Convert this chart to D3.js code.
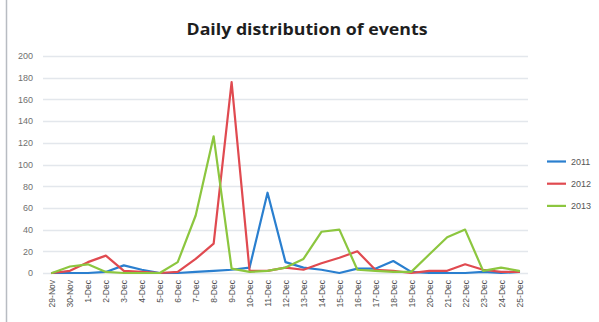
<!DOCTYPE html>
<html>
<head>
<meta charset="utf-8">
<script src="https://cdn.jsdelivr.net/npm/d3@7/dist/d3.min.js"></script>
<style>
  html, body { margin: 0; padding: 0; background: #fff; }
  svg { display: block; }
</style>
</head>
<body>
<svg id="chart" width="599" height="322"></svg>
<script>
// Day labels along the horizontal axis
const days = ["29-Nov", "30-Nov", "1-Dec", "2-Dec", "3-Dec", "4-Dec", "5-Dec", "6-Dec",
  "7-Dec", "8-Dec", "9-Dec", "10-Dec", "11-Dec", "12-Dec", "13-Dec", "14-Dec", "15-Dec",
  "16-Dec", "17-Dec", "18-Dec", "19-Dec", "20-Dec", "21-Dec", "22-Dec", "23-Dec", "24-Dec", "25-Dec"];

// Events per day, one array per year
const events2011 = [0, 0, 0, 1, 7, 3, 0, 0, 1, 2, 3, 5, 74, 10, 5, 3, 0, 4, 4, 11, 1, 0, 0, 0, 1, 0, 1];
const events2012 = [0, 2, 10, 16, 2, 1, 0, 1, 13, 27, 176, 2, 2, 5, 3, 9, 14, 20, 3, 2, 0, 2, 2, 8, 3, 1, 1];
const events2013 = [0, 6, 8, 1, 0, 0, 0, 10, 53, 126, 4, 1, 2, 5, 13, 38, 40, 3, 2, 1, 1, 17, 33, 40, 2, 5, 2];

const seriesNames = ["2011", "2012", "2013"];
const seriesColors = ["#2a7fcf", "#e04a50", "#8cc63f"];
const yTicks = [0, 20, 40, 60, 80, 100, 120, 140, 160, 180, 200];

const series = [events2011, events2012, events2013].map((values, i) => ({
  name: seriesNames[i], color: seriesColors[i], values
}));

const svg = d3.select("#chart");
const plot = { left: 43, right: 528, top: 56, bottom: 273 };

const x = d3.scalePoint().domain(days).range([plot.left, plot.right]).padding(0.5);
const y = d3.scaleLinear().domain([0, 200]).range([plot.bottom, plot.top]);

// Chart frame edge on the left
svg.append("line")
  .attr("x1", 6.5).attr("x2", 6.5).attr("y1", 0).attr("y2", 322)
  .attr("stroke", "#b8bcc2").attr("stroke-width", 1.5);

// Title
svg.append("text")
  .attr("x", 307).attr("y", 35)
  .attr("text-anchor", "middle")
  .attr("font-family", "'Open Sans', 'DejaVu Sans', sans-serif")
  .attr("font-weight", "bold")
  .attr("font-size", 16)
  .attr("fill", "#1e1e1e")
  .attr("textLength", 241)
  .attr("lengthAdjust", "spacingAndGlyphs")
  .text("Daily distribution of events");

// Horizontal gridlines
svg.append("g")
  .selectAll("line")
  .data(yTicks)
  .join("line")
  .attr("x1", plot.left).attr("x2", plot.right)
  .attr("y1", d => Math.round(y(d)) + 0.5).attr("y2", d => Math.round(y(d)) + 0.5)
  .attr("stroke", "#e3e7ec").attr("stroke-width", 1.3);

// Y axis labels
const yAxis = d3.axisLeft(y).tickValues(yTicks).tickSize(0).tickPadding(0);
const yg = svg.append("g").attr("transform", `translate(33,0)`).call(yAxis);
yg.select(".domain").remove();
yg.selectAll("text")
  .attr("font-family", "'Liberation Sans', Arial, sans-serif")
  .attr("font-size", 9)
  .attr("fill", "#707070");

// X axis labels, rotated to read upward
const xAxis = d3.axisBottom(x).tickSize(0).tickPadding(0);
const xg = svg.append("g").attr("transform", `translate(0,${plot.bottom})`).call(xAxis);
xg.select(".domain").remove();
xg.selectAll("text")
  .attr("font-family", "'Liberation Sans', Arial, sans-serif")
  .attr("font-size", 8.5)
  .attr("fill", "#505050")
  .attr("text-anchor", "end")
  .attr("dy", "0.35em")
  .attr("transform", "translate(0,7) rotate(-90)")
  .attr("x", 0).attr("y", 0);

// Series lines
const line = d3.line()
  .x((d, i) => x(days[i]))
  .y(d => y(d));

svg.append("g")
  .selectAll("path")
  .data(series)
  .join("path")
  .attr("d", d => line(d.values))
  .attr("fill", "none")
  .attr("stroke", d => d.color)
  .attr("stroke-width", 2.2)
  .attr("stroke-linejoin", "round")
  .attr("stroke-linecap", "round");

// Legend
const legend = svg.append("g")
  .selectAll("g")
  .data(series)
  .join("g")
  .attr("transform", (d, i) => `translate(547,${161.5 + i * 22.2})`);
legend.append("line")
  .attr("x1", 0).attr("x2", 19).attr("y1", 0).attr("y2", 0)
  .attr("stroke", d => d.color).attr("stroke-width", 2.2);
legend.append("text")
  .attr("x", 24).attr("y", 0).attr("dy", "0.35em")
  .attr("font-family", "'Liberation Sans', Arial, sans-serif")
  .attr("font-size", 9)
  .attr("fill", "#555")
  .text(d => d.name);
</script>
</body>
</html>
